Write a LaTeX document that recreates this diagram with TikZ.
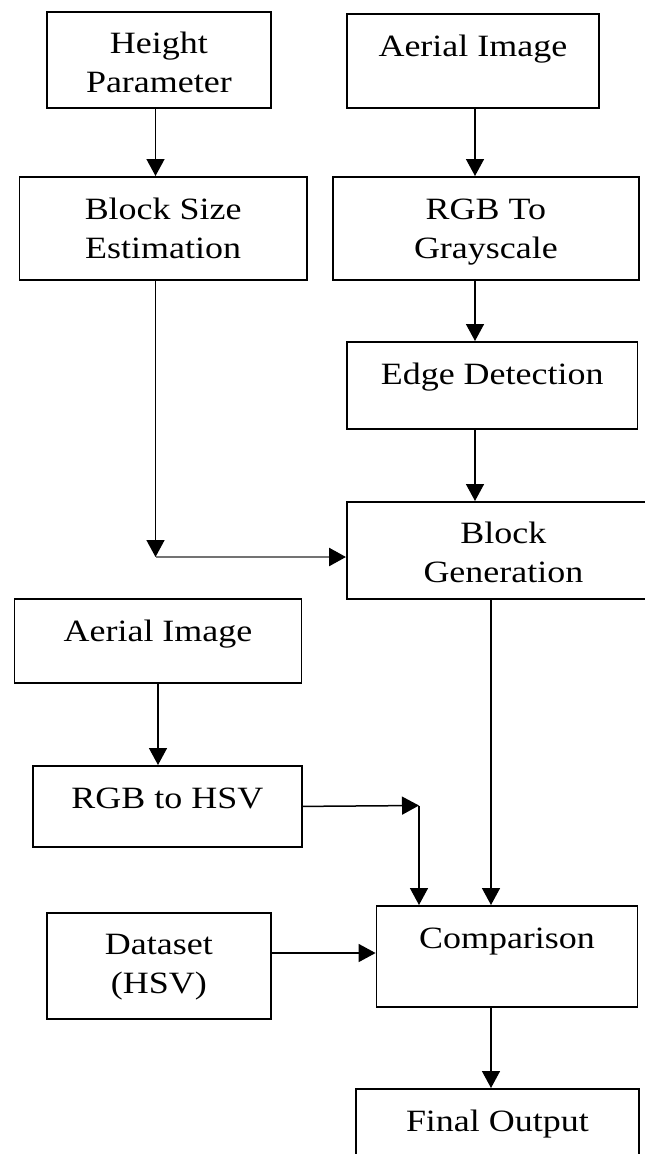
\documentclass[tikz,border=0pt]{standalone}
\usepackage{fontspec}
\setmainfont{Liberation Serif}[FakeStretch=1.16]
\usepackage{tikz}
\usetikzlibrary{arrows.meta}
\tikzset{
    box/.style={draw, line width=1.8pt, inner sep=0pt, anchor=north west, align=center, text height=43pt, font=\fontsize{31}{39}\selectfont},
    flow/.style={-{Triangle[length=17pt, width=18pt]}, line width=1.5pt},
    feed/.style={-{Triangle[length=17pt, width=18pt, color=black]}, line width=2.6pt, draw=black!55}
}

\begin{document}
\begin{tikzpicture}[x=1pt, y=-1pt]
                    \useasboundingbox (0,0) rectangle (645,1154);
                    \clip (0,0) rectangle (645,1154);

                    \node[box, minimum width=224pt, minimum height=96pt, text height=81pt, text depth=15pt] (hp) at (46,11) {Height\\Parameter};
                    \node[box, minimum width=252pt, minimum height=94pt, text depth=51pt] (aerial1) at (346,13) {Aerial Image};
                    \node[box, minimum width=287.5pt, minimum height=103pt, text height=82pt, text depth=21pt] (bse) at (18.5,176) {Block Size\\Estimation};
                    \node[box, minimum width=306pt, minimum height=103pt, text height=82pt, text depth=21pt] (gray) at (332,176) {RGB To\\Grayscale};
                    \node[box, minimum width=290.5pt, minimum height=87pt, text depth=44pt] (edge) at (346,341) {Edge Detection};
                    \node[box, minimum width=313pt, minimum height=97pt, text height=81pt, text depth=16pt] (blockgen) at (346,501) {Block\\Generation};
                    \node[box, minimum width=287pt, minimum height=84pt, text depth=41pt] (aerial2) at (13.6,598) {Aerial Image};
                    \node[box, minimum width=269pt, minimum height=81pt, text depth=38pt] (hsv) at (32,765) {RGB to HSV};
                    \node[box, minimum width=224.6pt, minimum height=106pt, text height=81pt, text depth=25pt] (dataset) at (45.7,912) {Dataset\\(HSV)};
                    \node[box, minimum width=261pt, minimum height=101pt, text depth=58pt] (comp) at (375.6,905) {Comparison};
                    \node[box, minimum width=283pt, minimum height=100pt, text depth=57pt] (final) at (355,1088) {Final Output};

                    % bends and columns of the connectors
                    \coordinate (turn) at (155.5,557);
                    \coordinate (merge) at (419,805.5);
                    \coordinate (rcol) at (475,0);
                    \coordinate (mcol) at (491,0);
                    \coordinate (dsrow) at (0,953);

                    \draw[flow] (hp.south -| turn) -- (bse.north -| turn);
                    \draw[flow] (aerial1.south -| rcol) -- (gray.north -| rcol);
                    \draw[flow] (gray.south -| rcol) -- (edge.north -| rcol);
                    \draw[flow] (edge.south -| rcol) -- (blockgen.north -| rcol);

                    % block size goes down, then across into block generation
                    \draw[flow] (bse.south -| turn) -- (turn);
                    \draw[feed] (turn) -- (turn -| blockgen.west);

                    \draw[flow] (aerial2.south) -- (hsv.north -| aerial2.south);
                    \draw[flow] (hsv.east) -- (merge);
                    \draw[flow] (merge) -- (comp.north -| merge);
                    \draw[flow] (blockgen.south -| mcol) -- (comp.north -| mcol);
                    \draw[flow] (dataset.east |- dsrow) -- (comp.west |- dsrow);
                    \draw[flow] (comp.south -| mcol) -- (final.north -| mcol);
                \end{tikzpicture}
\end{document}
